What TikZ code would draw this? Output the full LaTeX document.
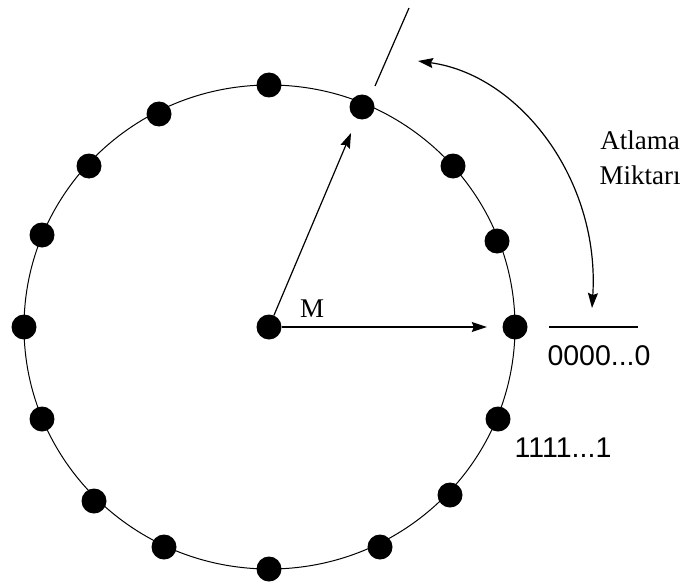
\documentclass[tikz,border=0pt]{standalone}
\usepackage{fontspec}
\setmainfont{Liberation Serif}
\newfontfamily\arialfont{Liberation Sans}
\usetikzlibrary{arrows.meta}
\begin{document}
\begin{tikzpicture}[x=1pt,y=-1pt,
  dot/.style={circle,fill=black,inner sep=0pt,minimum size=25pt},
  ring/.style={line width=1pt},
  conn/.style={line width=1.2pt,-{Stealth[length=15pt,width=10pt,inset=2pt]}},
  serifl/.style={font=\fontsize{27}{32}\selectfont,inner sep=0pt,anchor=base},
  sansl/.style={font=\arialfont\fontsize{28.5}{34}\selectfont,inner sep=0pt,anchor=base}]
\useasboundingbox (0,0) rectangle (687,583);
\draw[ring] (269.5,327) ellipse [x radius=245.5pt, y radius=242pt];
\node[dot] (c) at (269,327) {};
\node[dot] (d0) at (515,327) {};
\node[dot] (d1) at (498,419) {};
\node[dot] (d2) at (450,495) {};
\node[dot] (d3) at (380,547) {};
\node[dot] (d4) at (269,569) {};
\node[dot] (d5) at (164,547) {};
\node[dot] (d6) at (94,501) {};
\node[dot] (d7) at (42,419) {};
\node[dot] (d8) at (24,327) {};
\node[dot] (d9) at (42,235) {};
\node[dot] (d10) at (89,166) {};
\node[dot] (d11) at (159,114) {};
\node[dot] (d12) at (269,85) {};
\node[dot] (d13) at (362,107) {};
\node[dot] (d14) at (453,166) {};
\node[dot] (d15) at (497,241) {};
\draw[conn,shorten >=15.5pt] (c) -- (d13);
\draw[conn,shorten >=15.5pt] (c) -- (d0);
\coordinate (r1) at (375,86);
\coordinate (r2) at (409,8);
\draw[line width=1.2pt] (r1) -- (r2);
\coordinate (z1) at (549,327);
\coordinate (z2) at (638,327);
\draw[line width=1.2pt] (z1) -- (z2);
\coordinate (a1) at (418,61);
\coordinate (a2) at (592,308);
\draw[line width=1.2pt,{Stealth[length=15pt,width=10pt,inset=2pt]}-{Stealth[length=15pt,width=10pt,inset=2pt]}]
  (a1) .. controls (520,75) and (600,180) .. (a2);
\node[serifl] (m) at (312,317) {M};
\node[serifl] (t1) at (640,149) {Atlama};
\node[serifl] (t2) at (640,184) {Miktarı};
\node[sansl] (zero) at (599,365) {0000...0};
\node[sansl] (one) at (563,457) {1111...1};
\end{tikzpicture}
\end{document}
